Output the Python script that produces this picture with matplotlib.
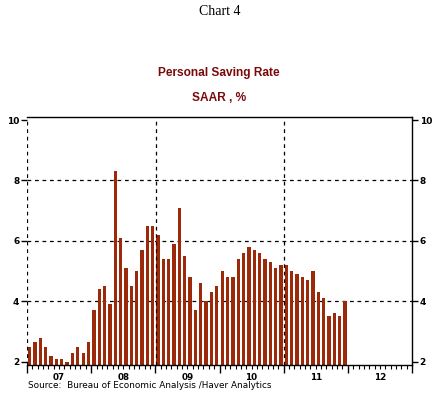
import numpy as np
import pandas as pd
import matplotlib
matplotlib.use("Agg")
import matplotlib.pyplot as plt
from matplotlib.ticker import MultipleLocator, FixedLocator, NullFormatter

# monthly personal saving rate, SAAR %, Jan 2007 - Dec 2011
start = "2007-01"
rate = [
    2.5, 2.65, 2.8, 2.5, 2.2, 2.1, 2.1, 2.0, 2.3, 2.5, 2.3, 2.65,   # 2007
    3.7, 4.4, 4.5, 3.9, 8.3, 6.1, 5.1, 4.5, 5.0, 5.7, 6.5, 6.5,     # 2008
    6.2, 5.4, 5.4, 5.9, 7.1, 5.5, 4.8, 3.7, 4.6, 4.0, 4.3, 4.5,     # 2009
    5.0, 4.8, 4.8, 5.4, 5.6, 5.8, 5.7, 5.6, 5.4, 5.3, 5.1, 5.2,     # 2010
    5.2, 5.0, 4.9, 4.8, 4.7, 5.0, 4.3, 4.1, 3.5, 3.6, 3.5, 4.0,     # 2011
]
years = [2007, 2008, 2009, 2010, 2011, 2012]
year_labels = ["07", "08", "09", "10", "11", "12"]
y_ticks = [2, 4, 6, 8, 10]

bar_color = "#9C2A0A"
title_color = "#7A0A0A"

dates = pd.date_range(start, periods=len(rate), freq="MS")
x = dates.year + (dates.month - 0.5) / 12

fig = plt.figure(figsize=(4.43, 3.99), dpi=100)
ax = fig.add_axes([0.061, 0.085, 0.869, 0.621])

ymin = 1.89
ax.bar(x, np.array(rate) - ymin, bottom=ymin, width=0.62 / 12,
       color=bar_color, zorder=2)

ax.set_xlim(years[0], years[-1] + 1)
ax.set_ylim(ymin, 10.09)

# dashed grid
for yv in y_ticks[1:-1]:
    ax.axhline(yv, color="black", ls=(0, (3, 3)), lw=0.9, zorder=1)
for xv in [2007, 2009, 2011]:
    ax.axvline(xv + 0.004, color="black", ls=(0, (3, 3)), lw=0.9, zorder=3)

ax.spines["left"].set_visible(False)
for s in ["right", "top", "bottom"]:
    ax.spines[s].set_linewidth(1.0)

# x axis: year ticks + monthly minor ticks, labels mid-year
ax.xaxis.set_major_locator(FixedLocator(years + [years[-1] + 1]))
ax.xaxis.set_major_formatter(NullFormatter())
ax.xaxis.set_minor_locator(MultipleLocator(1 / 12))
ax.xaxis.set_minor_formatter(NullFormatter())
ax.tick_params(axis="x", which="major", direction="out", length=6, width=1)
ax.tick_params(axis="x", which="minor", direction="out", length=3, width=0.8)
for yr, lab in zip(years, year_labels):
    ax.text(yr + 0.5, -0.03, lab, transform=ax.get_xaxis_transform(),
            ha="center", va="top", fontsize=6.3, fontweight="bold")

# y axis: labels on both sides
ax.set_yticks(y_ticks)
ax.tick_params(axis="y", which="major", direction="out", length=4, width=1,
               labelsize=6.5, left=True, right=True, labelleft=True, labelright=True,
               pad=1.5)
for lab in ax.get_yticklabels():
    lab.set_fontweight("bold")
ax.tick_params(axis="y", which="minor", left=False, right=False)

fig.text(0.495, 0.97, "Chart 4", ha="center", va="center",
         family="Liberation Serif", fontsize=10)
fig.text(0.495, 0.817, "Personal Saving Rate", ha="center", va="center",
         family="Liberation Sans", fontweight="bold", fontsize=8.6, color=title_color)
fig.text(0.495, 0.755, "SAAR , %", ha="center", va="center",
         family="Liberation Sans", fontweight="bold", fontsize=8.6, color=title_color)
fig.text(0.063, 0.033, "Source:  Bureau of Economic Analysis /Haver Analytics",
         ha="left", va="center", family="DejaVu Sans", fontsize=6.4)

fig.savefig("out.png", dpi=100)
